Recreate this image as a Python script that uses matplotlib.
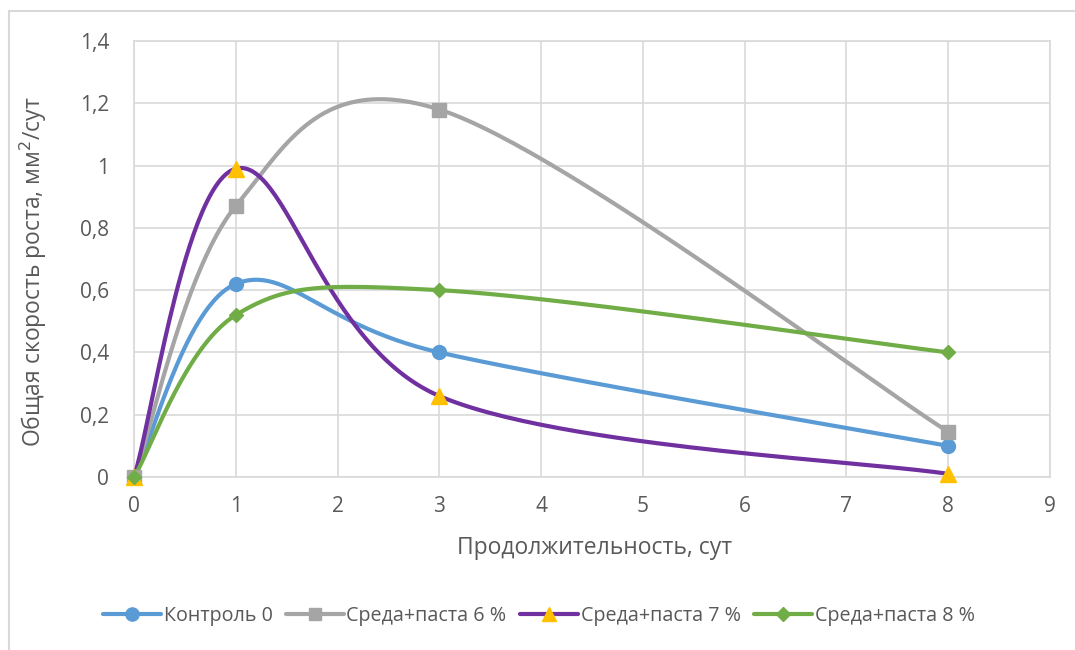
import numpy as np
import matplotlib
matplotlib.use("Agg")
import matplotlib.pyplot as plt
from matplotlib.patches import Rectangle

# Measurement days and growth-rate series
days = [0, 1, 3, 8]
control_0 = [0.0, 0.62, 0.40, 0.10]
paste_6 = [0.0, 0.87, 1.18, 0.145]
paste_7 = [0.0, 0.99, 0.26, 0.01]
paste_8 = [0.0, 0.52, 0.60, 0.40]

series_names = ["Контроль 0", "Среда+паста 6 %", "Среда+паста 7 %", "Среда+паста 8 %"]
y_ticks = [0, 0.2, 0.4, 0.6, 0.8, 1.0, 1.2, 1.4]
y_tick_labels = ["0", "0,2", "0,4", "0,6", "0,8", "1", "1,2", "1,4"]
x_ticks = list(range(10))

plt.rcParams["font.family"] = ["Open Sans", "DejaVu Sans"]


def smooth(xs, ys, n=60):
    """Catmull-Rom style cubic Bezier through the points (spreadsheet smoothing)."""
    pts = np.column_stack([xs, ys]).astype(float)
    m = len(pts)
    out = [pts[0]]
    for i in range(m - 1):
        p0 = pts[i - 1] if i > 0 else pts[i]
        p1 = pts[i]
        p2 = pts[i + 1]
        p3 = pts[i + 2] if i + 2 < m else pts[i + 1]
        c1 = p1 + (p2 - p0) / 6.0
        c2 = p2 - (p3 - p1) / 6.0
        t = np.linspace(0, 1, n)[1:, None]
        seg = ((1 - t) ** 3) * p1 + 3 * ((1 - t) ** 2) * t * c1 + 3 * (1 - t) * t ** 2 * c2 + t ** 3 * p2
        out.extend(seg)
    out = np.array(out)
    return out[:, 0], out[:, 1]


W, H = 1075, 650
fig = plt.figure(figsize=(W / 100, H / 100), dpi=100)

# Outer chart frame
fig.patches.append(Rectangle((9 / W, -0.01), 1.02 - 9 / W, 1 - 11 / H + 0.01,
                             transform=fig.transFigure, fill=False,
                             edgecolor="#d9d9d9", linewidth=1.5, zorder=0))

ax = fig.add_axes([134 / W, (H - 477) / H, 916 / W, 436 / H])

grid_c = "#d9d9d9"
text_c = "#595959"

styles = [
    dict(color="#5B9BD5", marker="o", mfc="#5B9BD5", mec="#5B9BD5", ms=10),
    dict(color="#A5A5A5", marker="s", mfc="#A5A5A5", mec="#A5A5A5", ms=9.5),
    dict(color="#7030A0", marker="^", mfc="#FFC000", mec="#FFC000", ms=11),
    dict(color="#70AD47", marker="D", mfc="#70AD47", mec="#70AD47", ms=7.5),
]
data = [control_0, paste_6, paste_7, paste_8]

lw = 3.0
for vals, name, st in zip(data, series_names, styles):
    sx, sy = smooth(days, vals)
    ax.plot(sx, sy, color=st["color"], lw=lw, solid_capstyle="round", zorder=3)
    ax.plot(days, vals, linestyle="none", marker=st["marker"], markersize=st["ms"],
            markerfacecolor=st["mfc"], markeredgecolor=st["mec"], zorder=4, clip_on=False)

# Legend proxies (line with marker)
handles = []
for st in styles:
    h, = ax.plot([], [], color=st["color"], lw=lw, solid_capstyle="round",
                 marker=st["marker"], markersize=st["ms"] * 0.95,
                 markerfacecolor=st["mfc"], markeredgecolor=st["mec"])
    handles.append(h)

ax.set_xlim(0, 9)
ax.set_ylim(0, 1.4)
ax.set_xticks(x_ticks)
ax.set_xticklabels([str(v) for v in x_ticks])
ax.set_yticks(y_ticks)
ax.set_yticklabels(y_tick_labels)
ax.grid(True, color=grid_c, linewidth=1.2, zorder=0)
ax.set_axisbelow(True)
for s in ax.spines.values():
    s.set_color(grid_c)
    s.set_linewidth(1.2)
ax.tick_params(length=0, labelsize=15, colors=text_c)
ax.tick_params(axis="x", pad=14)
ax.tick_params(axis="y", pad=18)

fig.text(595 / W, 1 - 548 / H, "Продолжительность, сут", ha="center", va="center",
         fontsize=16.5, color=text_c)
fig.text(33 / W, 1 - 272 / H, "Общая скорость роста, мм$^2$/сут", ha="center", va="center",
         rotation=90, fontsize=16.5, color=text_c)

fig.legend(handles, series_names, loc="center", bbox_to_anchor=(539 / W, 1 - 616 / H),
           ncol=4, frameon=False, fontsize=14.2, handlelength=2.9, handletextpad=0.15,
           columnspacing=0.7, labelcolor=text_c)

fig.savefig("out.png", dpi=100)
